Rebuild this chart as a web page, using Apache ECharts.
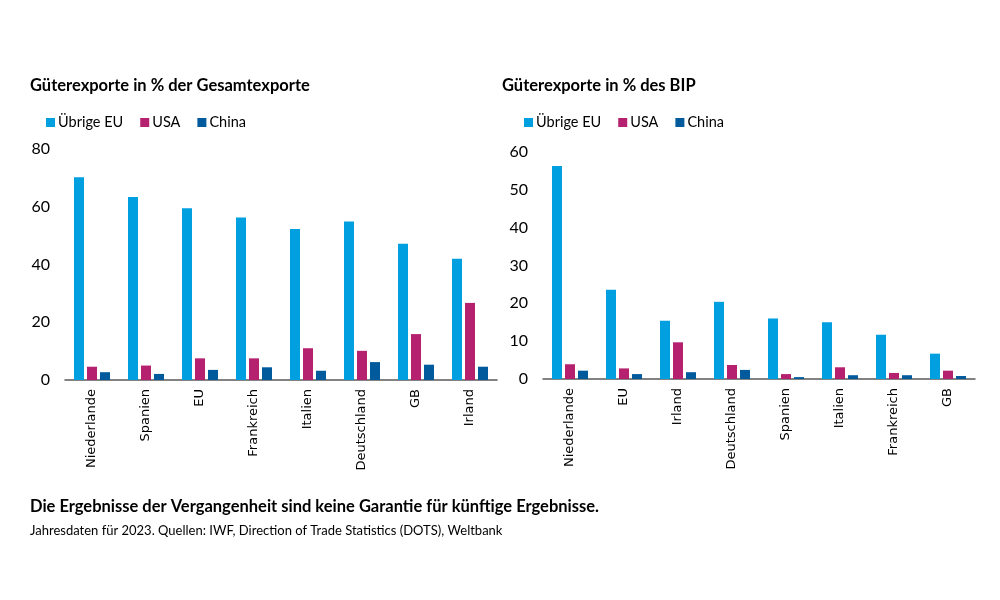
<!DOCTYPE html>
<html>
<head>
<meta charset="utf-8">
<script src="https://cdn.jsdelivr.net/npm/echarts@6/dist/echarts.min.js"></script>
<style>
html,body{margin:0;padding:0;background:#fff;}
#c{width:1000px;height:600px;}
</style>
</head>
<body>
<div id="c"></div>
<script>
const seriesNames = ['Übrige EU', 'USA', 'China'];
const colors = ['#009FDF', '#B5216F', '#005A9C'];

const catsLeft = ['Niederlande', 'Spanien', 'EU', 'Frankreich', 'Italien', 'Deutschland', 'GB', 'Irland'];
const leftEU = [70.2, 63.4, 59.5, 56.3, 52.3, 54.9, 47.2, 42.0];
const leftUSA = [4.6, 5.0, 7.5, 7.5, 11.0, 10.1, 15.9, 26.7];
const leftChina = [2.7, 2.1, 3.5, 4.4, 3.2, 6.2, 5.3, 4.6];

const catsRight = ['Niederlande', 'EU', 'Irland', 'Deutschland', 'Spanien', 'Italien', 'Frankreich', 'GB'];
const rightEU = [56.3, 23.6, 15.4, 20.4, 16.0, 15.0, 11.7, 6.7];
const rightUSA = [3.9, 2.8, 9.7, 3.7, 1.3, 3.1, 1.6, 2.2];
const rightChina = [2.2, 1.3, 1.8, 2.4, 0.5, 1.0, 1.0, 0.8];

const titleLeft = 'Güterexporte in % der Gesamtexporte';
const titleRight = 'Güterexporte in % des BIP';
const footBold = 'Die Ergebnisse der Vergangenheit sind keine Garantie für künftige Ergebnisse.';
const footNote = 'Jahresdaten für 2023. Quellen: IWF, Direction of Trade Statistics (DOTS), Weltbank';

const FONT = 'Lato';
const chart = echarts.init(document.getElementById('c'));

function xAxis(cats, gi) {
  return {
    type: 'category', gridIndex: gi, data: cats,
    axisLine: {lineStyle: {color: '#595959', width: 1.5}},
    axisTick: {show: false},
    axisLabel: {rotate: 90, interval: 0, margin: 9, fontFamily: 'DejaVu Sans', fontSize: 13, color: '#000'}
  };
}
function yAxis(max, interval, gi) {
  return {
    type: 'value', gridIndex: gi, min: 0, max: max, interval: interval,
    splitLine: {show: false}, axisLine: {show: false}, axisTick: {show: false},
    axisLabel: {margin: 15, fontFamily: FONT, fontSize: 16, color: '#000'}
  };
}
function bars(data, idx, gi) {
  return {
    type: 'bar', name: seriesNames[idx], xAxisIndex: gi, yAxisIndex: gi,
    data: data, barWidth: 10, barGap: '30%',
    itemStyle: {color: colors[idx]}
  };
}
const legendCommon = {
  data: seriesNames, icon: 'rect', itemWidth: 9, itemHeight: 9, itemGap: 17,
  textStyle: {fontFamily: FONT, fontSize: 14.5, color: '#000', padding: [0, 0, 0, -2]},
  padding: 0
};

chart.setOption({
  animation: false,
  title: [
    {text: titleLeft, left: 30, top: 77, padding: 0, textStyle: {fontFamily: FONT, fontWeight: 'bold', fontSize: 16.5, color: '#000'}},
    {text: titleRight, left: 502, top: 77, padding: 0, textStyle: {fontFamily: FONT, fontWeight: 'bold', fontSize: 16.5, color: '#000'}}
  ],
  legend: [
    Object.assign({left: 46, top: 115}, legendCommon),
    Object.assign({left: 524, top: 115}, legendCommon)
  ],
  grid: [
    {left: 65, top: 149, width: 432, height: 231},
    {left: 543, top: 152, width: 432, height: 227}
  ],
  xAxis: [xAxis(catsLeft, 0), xAxis(catsRight, 1)],
  yAxis: [yAxis(80, 20, 0), yAxis(60, 10, 1)],
  series: [
    bars(leftEU, 0, 0), bars(leftUSA, 1, 0), bars(leftChina, 2, 0),
    bars(rightEU, 0, 1), bars(rightUSA, 1, 1), bars(rightChina, 2, 1)
  ],
  graphic: [
    {type: 'text', left: 30, top: 498, style: {text: footBold, font: 'bold 16.5px Lato', fill: '#000'}},
    {type: 'text', left: 30, top: 524, style: {text: footNote, font: '13px Lato', fill: '#000'}}
  ]
});
</script>
</body>
</html>
